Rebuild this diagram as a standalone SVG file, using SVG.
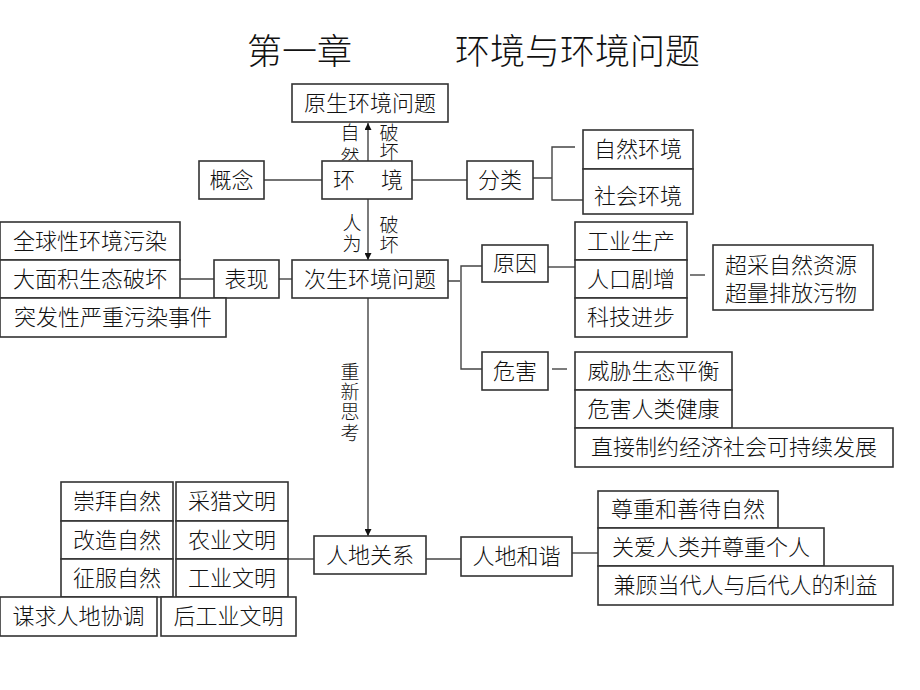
<svg xmlns="http://www.w3.org/2000/svg" width="920" height="690" viewBox="0 0 920 690">
<style>
.b{fill:#fff;stroke:#333;stroke-width:1.6}
.t{font-family:"Liberation Serif","Noto Sans CJK SC",serif;font-size:22px;font-weight:300;fill:#111;text-anchor:middle;dominant-baseline:central}
.s{font-family:"Liberation Serif","Noto Sans CJK SC",serif;font-size:19px;font-weight:300;fill:#111;text-anchor:middle;dominant-baseline:central}
.title{font-family:"Liberation Serif","Noto Sans CJK SC",serif;font-size:35px;font-weight:300;fill:#111;dominant-baseline:central}
.c{fill:none;stroke:#444;stroke-width:1.4}
</style>
<defs>
<marker id="ah" viewBox="0 0 10 10" refX="10" refY="5" markerWidth="7" markerHeight="7" markerUnits="userSpaceOnUse" orient="auto"><path d="M0,0L10,5L0,10z" fill="#111"/></marker>
</defs>
<rect width="920" height="690" fill="#fff"/>
<g id="title">
<text class="title" x="247" y="52">第一章</text>
<text class="title" x="455" y="52">环境与环境问题</text>
</g>
<g id="connectors">
<line class="c" x1="368" y1="161" x2="368" y2="123" marker-end="url(#ah)"/>
<line class="c" x1="368" y1="199" x2="368" y2="260" marker-end="url(#ah)"/>
<line class="c" x1="368" y1="298" x2="368" y2="536" marker-end="url(#ah)"/>
<line class="c" x1="264" y1="180" x2="322" y2="180"/>
<line class="c" x1="412" y1="180" x2="467" y2="180"/>
<path class="c" d="M533,178H552M575,147H552V200H583"/>
<line class="c" x1="180" y1="279" x2="214" y2="279"/>
<line class="c" x1="279" y1="279" x2="292" y2="279"/>
<path class="c" d="M448,281H460M482,266H461V369H482"/>
<line class="c" x1="548" y1="267" x2="575" y2="267"/>
<line class="c" x1="690" y1="275" x2="705" y2="275"/>
<line class="c" x1="552" y1="369" x2="567" y2="369"/>
<line class="c" x1="288" y1="559" x2="314" y2="559"/>
<line class="c" x1="426" y1="559" x2="461" y2="559"/>
<line class="c" x1="572" y1="553" x2="598" y2="553"/>
</g>
<g id="edge-labels">
<text class="s" x="350" y="133">自</text>
<text class="s" x="350" y="157">然</text>
<text class="s" x="389" y="133">破</text>
<text class="s" x="389" y="152">坏</text>
<text class="s" x="352" y="223">人</text>
<text class="s" x="352" y="244">为</text>
<text class="s" x="389" y="225">破</text>
<text class="s" x="389" y="245">坏</text>
<text class="s" x="350" y="372">重</text>
<text class="s" x="350" y="392">新</text>
<text class="s" x="350" y="412">思</text>
<text class="s" x="350" y="433">考</text>
</g>
<g id="n-yuansheng"><rect class="b" x="292" y="84" width="156" height="38"/><text class="t" x="370" y="103">原生环境问题</text></g>
<g id="n-huanjing"><rect class="b" x="322" y="161" width="90" height="38"/><text class="t" x="344" y="180">环</text><text class="t" x="392" y="180">境</text></g>
<g id="n-gainian"><rect class="b" x="199" y="161" width="65" height="38"/><text class="t" x="231.5" y="180">概念</text></g>
<g id="n-fenlei"><rect class="b" x="467" y="161" width="66" height="38"/><text class="t" x="500" y="180">分类</text></g>
<g id="n-ziran"><rect class="b" x="583" y="130" width="110" height="39"/><text class="t" x="638" y="149.5">自然环境</text></g>
<g id="n-shehui"><rect class="b" x="583" y="169" width="110" height="45"/><text class="t" x="638" y="196">社会环境</text></g>
<g id="n-cisheng"><rect class="b" x="292" y="260" width="156" height="38"/><text class="t" x="370" y="279">次生环境问题</text></g>
<g id="n-biaoxian"><rect class="b" x="214" y="260" width="65" height="38"/><text class="t" x="246.5" y="279">表现</text></g>
<g id="n-quanqiu"><rect class="b" x="0" y="222" width="180" height="38"/><text class="t" x="90" y="241">全球性环境污染</text></g>
<g id="n-damianji"><rect class="b" x="0" y="260" width="180" height="38"/><text class="t" x="90" y="279">大面积生态破坏</text></g>
<g id="n-tufa"><rect class="b" x="0" y="298" width="226" height="39"/><text class="t" x="113" y="317.5">突发性严重污染事件</text></g>
<g id="n-yuanyin"><rect class="b" x="482" y="245" width="66" height="37"/><text class="t" x="515" y="263.5">原因</text></g>
<g id="n-gongye"><rect class="b" x="575" y="222" width="112" height="38"/><text class="t" x="631" y="241">工业生产</text></g>
<g id="n-renkou"><rect class="b" x="575" y="260" width="112" height="38"/><text class="t" x="631" y="279">人口剧增</text></g>
<g id="n-keji"><rect class="b" x="575" y="298" width="112" height="39"/><text class="t" x="631" y="317.5">科技进步</text></g>
<g id="n-chaocai"><rect class="b" x="713" y="245" width="160" height="65"/><text class="t" x="791" y="265">超采自然资源</text><text class="t" x="791" y="293">超量排放污物</text></g>
<g id="n-weihai"><rect class="b" x="482" y="352" width="66" height="38"/><text class="t" x="515" y="371">危害</text></g>
<g id="n-weixie"><rect class="b" x="575" y="352" width="157" height="38"/><text class="t" x="653.5" y="371">威胁生态平衡</text></g>
<g id="n-weihairenlei"><rect class="b" x="575" y="390" width="157" height="38"/><text class="t" x="653.5" y="409">危害人类健康</text></g>
<g id="n-zhijie"><rect class="b" x="575" y="428" width="318" height="39"/><text class="t" x="734" y="447.5">直接制约经济社会可持续发展</text></g>
<g id="n-rendiguanxi"><rect class="b" x="314" y="536" width="112" height="38"/><text class="t" x="370" y="555">人地关系</text></g>
<g id="n-chongbai"><rect class="b" x="61" y="482" width="112" height="39"/><text class="t" x="117" y="501.5">崇拜自然</text></g>
<g id="n-gaizao"><rect class="b" x="61" y="521" width="112" height="38"/><text class="t" x="117" y="540">改造自然</text></g>
<g id="n-zhengfu"><rect class="b" x="61" y="559" width="112" height="38"/><text class="t" x="117" y="578">征服自然</text></g>
<g id="n-cailie"><rect class="b" x="176" y="482" width="112" height="39"/><text class="t" x="232" y="501.5">采猎文明</text></g>
<g id="n-nongye"><rect class="b" x="176" y="521" width="112" height="38"/><text class="t" x="232" y="540">农业文明</text></g>
<g id="n-gongyewm"><rect class="b" x="176" y="559" width="112" height="38"/><text class="t" x="232" y="578">工业文明</text></g>
<g id="n-mouqiu"><rect class="b" x="0" y="597" width="157" height="39"/><text class="t" x="78.5" y="616.5">谋求人地协调</text></g>
<g id="n-hougongye"><rect class="b" x="161" y="597" width="135" height="39"/><text class="t" x="228.5" y="616.5">后工业文明</text></g>
<g id="n-rendihexie"><rect class="b" x="461" y="537" width="111" height="39"/><text class="t" x="516.5" y="556.5">人地和谐</text></g>
<g id="n-zunzhong"><rect class="b" x="598" y="491" width="180" height="37"/><text class="t" x="688" y="509.5">尊重和善待自然</text></g>
<g id="n-guanai"><rect class="b" x="598" y="528" width="226" height="38"/><text class="t" x="711" y="547">关爱人类并尊重个人</text></g>
<g id="n-jiangu"><rect class="b" x="598" y="566" width="295" height="39"/><text class="t" x="745.5" y="585.5">兼顾当代人与后代人的利益</text></g>
</svg>
